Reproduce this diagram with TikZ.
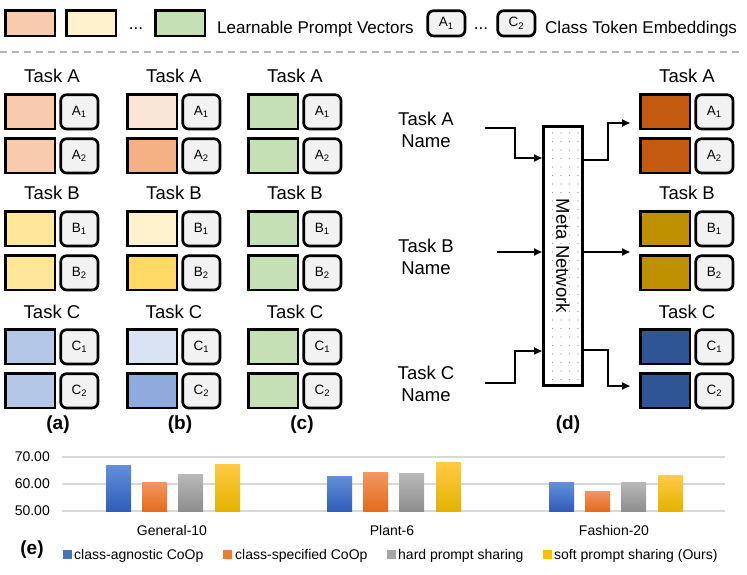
\documentclass[tikz,border=0pt]{standalone}
\usepackage{fontspec}
\setmainfont{Liberation Sans}
\usetikzlibrary{arrows.meta,patterns.meta}
% prompt colours, column a
\definecolor{aA1}{HTML}{F8CBAD}\definecolor{aA2}{HTML}{F8CBAD}
\definecolor{aB1}{HTML}{FFE699}\definecolor{aB2}{HTML}{FFE699}
\definecolor{aC1}{HTML}{B4C7E7}\definecolor{aC2}{HTML}{B4C7E7}
% column b
\definecolor{bA1}{HTML}{FBE5D6}\definecolor{bA2}{HTML}{F4B183}
\definecolor{bB1}{HTML}{FFF2CC}\definecolor{bB2}{HTML}{FFD966}
\definecolor{bC1}{HTML}{DAE3F3}\definecolor{bC2}{HTML}{8FAADC}
% column c
\definecolor{cA1}{HTML}{C5E0B4}\definecolor{cA2}{HTML}{C5E0B4}
\definecolor{cB1}{HTML}{C5E0B4}\definecolor{cB2}{HTML}{C5E0B4}
\definecolor{cC1}{HTML}{C5E0B4}\definecolor{cC2}{HTML}{C5E0B4}
% column d
\definecolor{dA1}{HTML}{C55A11}\definecolor{dA2}{HTML}{C55A11}
\definecolor{dB1}{HTML}{BF9000}\definecolor{dB2}{HTML}{BF9000}
\definecolor{dC1}{HTML}{2F5597}\definecolor{dC2}{HTML}{2F5597}
\definecolor{tokgray}{HTML}{F2F2F2}
\definecolor{gridgray}{HTML}{D9D9D9}
\definecolor{dashgray}{HTML}{B4B4B4}
% chart colours
\definecolor{cblue}{HTML}{4472C4}\definecolor{cblueT}{HTML}{628ED8}\definecolor{cblueB}{HTML}{2F5DB8}
\definecolor{corange}{HTML}{ED7D31}\definecolor{corangeT}{HTML}{F29660}\definecolor{corangeB}{HTML}{E46C1C}
\definecolor{cgray}{HTML}{A5A5A5}\definecolor{cgrayT}{HTML}{B8B8B8}\definecolor{cgrayB}{HTML}{8E8E8E}
\definecolor{cyellow}{HTML}{FFC000}\definecolor{cyellowT}{HTML}{FFCB45}\definecolor{cyellowB}{HTML}{E4B200}

\begin{document}
\begin{tikzpicture}[x=1pt,y=-1pt,
  prompt/.style={draw,line width=2.7pt,inner sep=0pt,anchor=north west,minimum width=49.3pt,minimum height=34.3pt},
  token/.style={draw,line width=2.7pt,inner sep=0pt,anchor=north west,rounded corners=6pt,fill=tokgray,minimum width=37.3pt,minimum height=34.3pt,font=\fontsize{13.5}{16}\selectfont},
  task/.style={font=\fontsize{18.5}{22}\selectfont},
  keytext/.style={font=\fontsize{17}{20}\selectfont,inner sep=0pt},
  panel/.style={font=\fontsize{19}{22}\selectfont\bfseries},
  chart/.style={font=\fontsize{14}{16}\selectfont,inner sep=0pt},
  arr/.style={line width=2pt,-{Triangle[length=8pt,width=7pt]}},
  meta/.style={draw,line width=2.7pt,minimum width=39.3pt,minimum height=259.3pt,pattern={Dots[distance=8.5pt,radius=0.6pt]},pattern color=black!40}]
\useasboundingbox (0,0) rectangle (747,575);

% legend on top
\node[prompt,fill=aA1,minimum height=25.3pt] (keyA) at (4.35,9.35) {};
\node[prompt,fill=bB1,minimum height=25.3pt] (keyB) at (65.35,9.35) {};
\node[keytext,anchor=base] (keyDotsA) at (136,30) {...};
\node[prompt,fill=cA1,minimum height=25.3pt] (keyC) at (154.35,9.35) {};
\node[keytext,anchor=base west] (keyPrompt) at (217,34) {Learnable Prompt Vectors};
\node[token,minimum height=25.3pt] (keyTokA) at (426.35,9.35) {A\textsubscript{1}};
\node[keytext,anchor=base] (keyDotsB) at (481,30) {...};
\node[token,minimum height=25.3pt] (keyTokC) at (496.35,9.35) {C\textsubscript{2}};
\node[keytext,anchor=base west] (keyToken) at (545,34) {Class Token Embeddings};
\draw[dashgray,line width=2pt,dash pattern=on 7pt off 5pt] (0,52) -- (740,52);

% prompt columns (a), (b), (c) and the output of (d)
\foreach \col/\x in {a/3,b/125,c/246,d/638}{
  \foreach \t/\y in {A/92,B/209,C/327}{
    \node[task,anchor=base] (\col\t) at (\x+49,\y-9) {Task \t};
    \node[prompt,fill=\col\t1] (\col\t1) at (\x+1.35,\y+1.35) {};
    \node[token] (\col\t1k) at (\x+56.35,\y+1.35) {\t\textsubscript{1}};
    \node[prompt,fill=\col\t2] (\col\t2) at (\x+1.35,\y+45.35) {};
    \node[token] (\col\t2k) at (\x+56.35,\y+45.35) {\t\textsubscript{2}};
  }
}
\node[panel] (labA) at (58,425) {(a)};
\node[panel] (labB) at (180,425) {(b)};
\node[panel] (labC) at (302,425) {(c)};
\node[panel] (labD) at (568,425) {(d)};

% meta network
\node[meta] (meta) at (563,256) {};
\node[task,rotate=-90] (metaText) at (meta.center) {Meta Network};
\node[task,align=center] (nameA) at (426,130) {Task A\\Name};
\node[task,align=center] (nameB) at (426,257) {Task B\\Name};
\node[task,align=center] (nameC) at (426,384) {Task C\\Name};
\coordinate (inA) at (485,128);
\coordinate (inB) at (497,252);
\coordinate (inC) at (485,383);
\coordinate (outA) at (630,123);
\coordinate (outB) at (630,252);
\coordinate (outC) at (630,386);
\draw[arr] (inA) -- ++(30,0) |- (meta.west |- 0,158);
\draw[arr] (inB) -- (meta.west |- inB);
\draw[arr] (inC) -- ++(30,0) |- (meta.west |- 0,351);
\draw[arr] (meta.east |- 0,160) -- (608,160) |- (outA);
\draw[arr] (meta.east |- outB) -- (outB);
\draw[arr] (meta.east |- 0,350) -- (608,350) |- (outC);

% bar chart (e)
\foreach \gy in {457,484,511}
  \draw[gridgray,line width=1.2pt] (62,\gy) -- (725,\gy);
\node[chart,anchor=east] (tickA) at (50,457) {70.00};
\node[chart,anchor=east] (tickB) at (50,484) {60.00};
\node[chart,anchor=east] (tickC) at (50,511) {50.00};
\foreach \cx/\va/\vb/\vc/\vd in {172/66.7/60.7/63.7/67.4,393/62.6/64.1/64.0/68.1,615/60.4/57.4/60.7/63.0}{
  \shade[top color=cblueT,bottom color=cblueB] (\cx-66,511) rectangle ++(25,{-(\va-50)*2.7});
  \shade[top color=corangeT,bottom color=corangeB] (\cx-30,511) rectangle ++(25,{-(\vb-50)*2.7});
  \shade[top color=cgrayT,bottom color=cgrayB] (\cx+6,511) rectangle ++(25,{-(\vc-50)*2.7});
  \shade[top color=cyellowT,bottom color=cyellowB] (\cx+43,511) rectangle ++(25,{-(\vd-50)*2.7});
}
\node[chart,anchor=base] (catGen) at (172,535) {General-10};
\node[chart,anchor=base] (catPlant) at (392,535) {Plant-6};
\node[chart,anchor=base] (catFash) at (614,535) {Fashion-20};

\node[panel] (labE) at (32,550) {(e)};
\fill[cblue] (63,550) rectangle ++(9,9);
\node[chart,anchor=base west] (keyAgn) at (74,559) {class-agnostic CoOp};
\fill[corange] (223,550) rectangle ++(9,9);
\node[chart,anchor=base west] (keySpec) at (235,559) {class-specified CoOp};
\fill[cgray] (387,550) rectangle ++(9,9);
\node[chart,anchor=base west] (keyHard) at (398,559) {hard prompt sharing};
\fill[cyellow] (543,550) rectangle ++(9,9);
\node[chart,anchor=base west] (keySoft) at (554,559) {soft prompt sharing (Ours)};
\end{tikzpicture}
\end{document}
